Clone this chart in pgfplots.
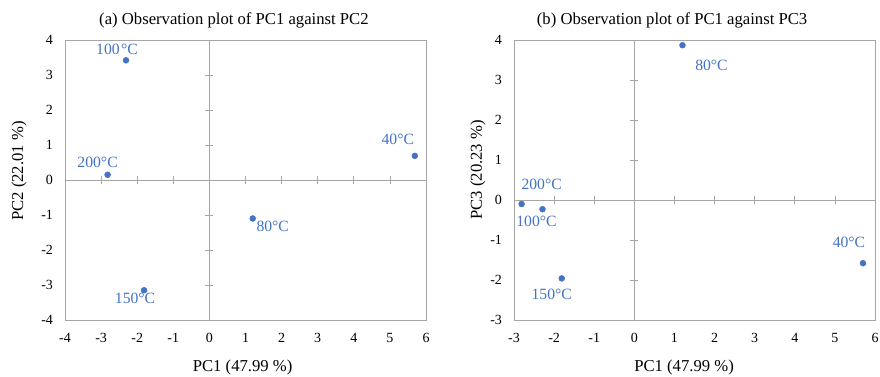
\documentclass[border=0pt]{standalone}
\usepackage{fontspec}
\setmainfont{Liberation Serif}
\usepackage{pgfplots}
\pgfplotsset{compat=1.18}
\definecolor{ptblue}{HTML}{4472C4}
\definecolor{framegray}{HTML}{A6A6A6}
\tikzset{lbl/.style={font=\fontsize{11.75}{13}\selectfont, text=ptblue, inner sep=0pt}}
\pgfplotsset{
  every axis title shift=0pt,
  base/.style={
    scale only axis, width=270.75pt, height=210pt, anchor=south west,
    /pgf/number format/assume math mode=true,
    tick label style={font=\fontsize{10.5}{12}\selectfont, text=black},
    label style={font=\fontsize{12.5}{14}\selectfont},
    title style={font=\fontsize{12.5}{14}\selectfont},
    axis line style={framegray},
    major tick length=0pt,
    xtick distance=1, ytick distance=1,
    yticklabel style={xshift=-5.5pt},
    xticklabel style={yshift=-6.5pt},
    clip=false,
  },
  mid/.style={
    scale only axis, width=270.75pt, height=210pt, anchor=south west,
    axis lines=middle, axis line style={framegray,-},
    xtick distance=1, ytick distance=1,
    xticklabels={}, yticklabels={},
    tick align=center, major tick length=6pt,
    tick style={framegray, line width=0.5pt},
  },
}
\begin{document}
\begin{tikzpicture}
\path[use as bounding box] (0,0) rectangle (660pt,282.75pt);
% ---------- (a) ----------
\begin{axis}[base, at={(48.75pt,42.75pt)},
  xmin=-4, xmax=6, ymin=-4, ymax=4,
  title={(a) Observation plot of PC1 against PC2},
  title style={at={(axis description cs:0.468,1.071)}, anchor=center},
  xlabel={PC1 (47.99 \%)}, ylabel={PC2 (22.01 \%)},
  xlabel style={at={(axis description cs:0.492,-0.171)}, anchor=center},
  ylabel style={at={(axis description cs:-0.127,0.532)}, anchor=center, rotate=0},
]
\addplot[only marks, mark=*, mark size=2.2pt, color=ptblue] coordinates {
  (-2.31,3.42) (-2.82,0.15) (5.69,0.69) (1.20,-1.10) (-1.81,-3.15)};
\node[lbl, xshift=-6.75pt, yshift=8.25pt] at (axis cs:-2.31,3.42) {100\kern1pt°C};
\node[lbl, xshift=-7.5pt, yshift=9pt] at (axis cs:-2.82,0.15) {200°C};
\node[lbl, xshift=-12.75pt, yshift=12pt] at (axis cs:5.69,0.69) {40°C};
\node[lbl, xshift=15pt, yshift=-6pt] at (axis cs:1.20,-1.10) {80°C};
\node[lbl, xshift=-6.75pt, yshift=-6pt] at (axis cs:-1.81,-3.15) {150°C};
\end{axis}
\begin{axis}[mid, at={(48.75pt,42.75pt)}, xmin=-4, xmax=6, ymin=-4, ymax=4]
\end{axis}
% ---------- (b) ----------
\begin{axis}[base, at={(385.5pt,42.75pt)},
  xmin=-3, xmax=6, ymin=-3, ymax=4,
  title={(b) Observation plot of PC1 against PC3},
  title style={at={(axis description cs:0.438,1.071)}, anchor=center},
  xlabel={PC1 (47.99 \%)}, ylabel={PC3 (20.23 \%)},
  xlabel style={at={(axis description cs:0.471,-0.171)}, anchor=center},
  ylabel style={at={(axis description cs:-0.100,0.536)}, anchor=center, rotate=0},
]
\addplot[only marks, mark=*, mark size=2.2pt, color=ptblue] coordinates {
  (1.20,3.87) (-2.81,-0.10) (-2.29,-0.23) (-1.81,-1.96) (5.70,-1.58)};
\node[lbl, xshift=21.75pt, yshift=-15pt] at (axis cs:1.20,3.87) {80°C};
\node[lbl, xshift=15pt, yshift=15pt] at (axis cs:-2.81,-0.10) {200°C};
\node[lbl, xshift=-4.5pt, yshift=-9pt] at (axis cs:-2.29,-0.23) {100°C};
\node[lbl, xshift=-7.5pt, yshift=-12pt] at (axis cs:-1.81,-1.96) {150°C};
\node[lbl, xshift=-10.5pt, yshift=15.75pt] at (axis cs:5.70,-1.58) {40°C};
\end{axis}
\begin{axis}[mid, at={(385.5pt,42.75pt)}, xmin=-3, xmax=6, ymin=-3, ymax=4]
\end{axis}
\end{tikzpicture}
\end{document}
